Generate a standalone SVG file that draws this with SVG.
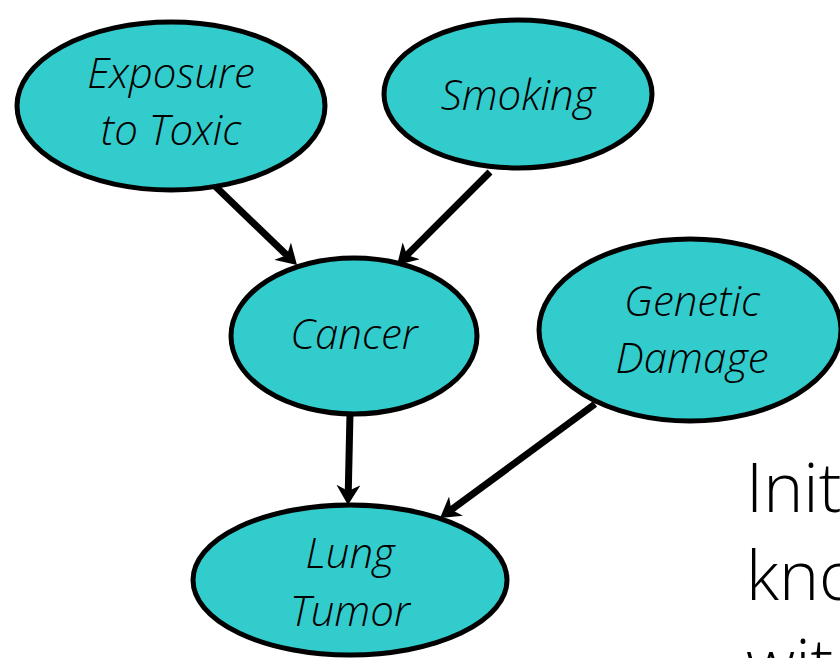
<svg xmlns="http://www.w3.org/2000/svg" width="840" height="658" viewBox="0 0 840 658">
  <style>
    .node { fill: #33CCCC; stroke: #000; stroke-width: 5; }
    .lbl { font-family: "Open Sans", "Liberation Sans", sans-serif; font-style: italic; font-weight: 300; font-size: 42px; fill: #000; text-anchor: middle; }
    .edge { stroke: #000; stroke-width: 7; fill: none; marker-end: url(#arrow); }
    .body { font-family: "Open Sans", "Liberation Sans", sans-serif; font-weight: 300; font-size: 68px; fill: #000; }
  </style>
  <defs>
    <!-- stealth-style head; the shaft stops 10px short of the tip -->
    <marker id="arrow" viewBox="0 0 20 24" refX="10" refY="12" markerWidth="20" markerHeight="24" markerUnits="userSpaceOnUse" orient="auto">
      <path d="M0,0 L20,12 L0,24 L6,12 Z" fill="#000"/>
    </marker>
  </defs>
  <rect width="840" height="658" fill="#fff"/>

  <g id="exposure">
    <ellipse class="node" cx="171" cy="106" rx="154" ry="84"/>
    <text class="lbl" x="171" y="88">Exposure</text>
    <text class="lbl" x="171" y="145">to Toxic</text>
  </g>
  <g id="smoking">
    <ellipse class="node" cx="518" cy="94" rx="134" ry="74"/>
    <text class="lbl" x="518" y="110">Smoking</text>
  </g>
  <g id="cancer">
    <ellipse class="node" cx="354" cy="336" rx="123" ry="78"/>
    <text class="lbl" x="354" y="349">Cancer</text>
  </g>
  <g id="genetic">
    <ellipse class="node" cx="690" cy="330" rx="151" ry="91"/>
    <text class="lbl" x="692" y="316">Genetic</text>
    <text class="lbl" x="692" y="373">Damage</text>
  </g>
  <g id="lung">
    <ellipse class="node" cx="350" cy="580" rx="157" ry="75"/>
    <text class="lbl" x="350" y="568">Lung</text>
    <text class="lbl" x="350" y="626">Tumor</text>
  </g>

  <g id="connectors">
    <line class="edge" x1="215" y1="186" x2="289.8" y2="258.1"/>
    <line class="edge" x1="490" y1="172" x2="404.1" y2="257.9"/>
    <line class="edge" x1="350" y1="413" x2="348.2" y2="495"/>
    <line class="edge" x1="595" y1="404" x2="448.1" y2="512.1"/>
  </g>

  <g id="side-text">
    <text class="body" x="746" y="512">Init</text>
    <text class="body" x="746" y="600">kno</text>
    <text class="body" x="746" y="688">wit</text>
  </g>
</svg>
